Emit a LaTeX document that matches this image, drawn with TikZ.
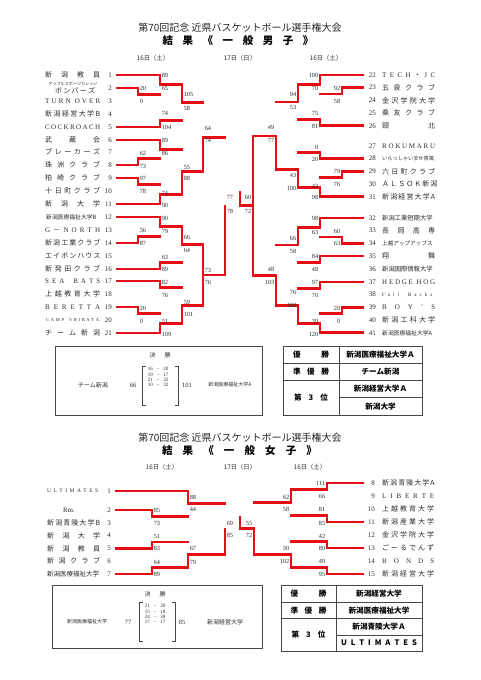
\documentclass[tikz,border=0pt]{standalone}
\usepackage{fontspec}
\setmainfont{Liberation Serif}
\newfontfamily\jp{Noto Sans CJK JP}
\definecolor{bred}{RGB}{232,12,20}
\definecolor{lk}{RGB}{70,70,70}
\definecolor{txt}{RGB}{45,45,45}
\pgfdeclarelayer{bg}
\pgfsetlayers{bg,main}
\tikzset{
 bk/.style={draw=lk, line width=0.8pt},
 rd/.style={draw=bred, line width=2.7pt, line cap=rect},
 sepl/.style={draw=black!35, line width=0.6pt},
 nm/.style={anchor=west, inner sep=0pt, text=txt, font=\jp\fontsize{7}{8}\selectfont},
 numL/.style={anchor=east, inner sep=0pt, text=txt, font=\fontsize{7}{8}\selectfont},
 scl/.style={anchor=west, inner sep=0.6pt, text=txt, font=\fontsize{6.3}{7}\selectfont},
 scr/.style={anchor=east, inner sep=0.6pt, text=txt, font=\fontsize{6.3}{7}\selectfont},
 ttl/.style={inner sep=0pt, text=black!85, font=\jp\fontsize{10}{12}\selectfont},
 ttlb/.style={inner sep=0pt, text=black, font=\jp\bfseries\fontsize{10.5}{12}\selectfont},
 dt/.style={inner sep=0pt, text=txt, font=\jp\fontsize{6.3}{7}\selectfont},
 fbx/.style={draw=lk, line width=0.9pt},
 brk/.style={draw=lk, line width=0.8pt},
 tb/.style={inner sep=0pt, text=black, font=\jp\bfseries\fontsize{7.6}{9}\selectfont},
 sm/.style={inner sep=0pt, text=txt, font=\jp\fontsize{6}{7}\selectfont},
 rw/.style={inner sep=0pt, text=txt, font=\fontsize{5}{5.5}\selectfont},
 fs/.style={inner sep=0pt, text=txt, font=\fontsize{6.5}{7}\selectfont},
}
\newcount\nodecnt
\newcommand\ScL[3]{\global\advance\nodecnt by 1\relax\node[scl] (sc\the\nodecnt) at (#1,#2) {#3};}
\newcommand\ScR[3]{\global\advance\nodecnt by 1\relax\node[scr] (sc\the\nodecnt) at (#1,#2) {#3};}
\newcommand\TLr[3]{\draw[rd] (#1,#3) -- (#2,#3);}
\newcommand\TLk[3]{\begin{pgfonlayer}{bg}\draw[bk] (#1,#3) -- (#2,#3);\end{pgfonlayer}}
\newcommand\bm[5]{%
 \pgfmathsetmacro\bmid{(#2+#3)/2}%
 \begin{pgfonlayer}{bg}\draw[bk] (#1,#2) -- (#1,#3);\end{pgfonlayer}%
 \ifnum#5=1\relax\draw[rd] (#1,#2) -- (#1,\bmid) -- (#4,\bmid);%
 \else\draw[rd] (#1,#3) -- (#1,\bmid) -- (#4,\bmid);\fi}
\newcommand\NL[4]{\node[nm] (#1) at (45,#2) {\makebox[55pt][s]{#4}};\node[numL] (#1n) at (112,#2) {#3};}
\newcommand\NR[4]{\node[nm] (#1) at (382,#2) {\makebox[53pt][s]{#4}};\node[numL] (#1n) at (376,#2) {#3};}
\newcommand\WNL[4]{\node[nm] (#1) at (47,#2) {\makebox[53pt][s]{#4}};\node[numL] (#1n) at (111,#2) {#3};}
\newcommand\WNR[4]{\node[nm] (#1) at (382,#2) {\makebox[52pt][s]{#4}};\node[numL] (#1n) at (375,#2) {#3};}
\begin{document}
\begin{tikzpicture}[x=1pt,y=-1pt]
\useasboundingbox (0,0) rectangle (481,680);
\fill[white] (0,0) rectangle (481,680);

% ================= MEN =================
\node[ttl] (mt1) at (240,28) {第70回記念 近県バスケットボール選手権大会};
\node[ttlb] (mt2) at (238,41) {\makebox[151pt][s]{結 果 《 一 般 男 子 》}};
\node[dt] (md1) at (153,58) {16日（土）};
\node[dt] (md2) at (240,58) {17日（日）};
\node[dt] (md3) at (326,58) {16日（土）};
\begin{pgfonlayer}{bg}
\draw[sepl] (197,53) -- (197,342);
\draw[sepl] (284,53) -- (284,342);
\end{pgfonlayer}

% left names
\NL{L1}{75}{1}{新 潟 教 員}
\node[inner sep=0pt, text=txt, font=\jp\fontsize{4.1}{5}\selectfont] (L2a) at (73,84.3) {アップルスポーツカレッジ};
\node[nm] (L2) at (55,91) {\makebox[40pt][s]{ボ ン バ ー ズ}};
\node[numL] (L2n) at (112,88) {2};
\NL{L3}{101}{3}{\rmfamily T U R N \ O V E R}
\NL{L4}{114}{4}{新 潟 経 営 大 学 B}
\NL{L5}{127}{5}{\rmfamily C O C K R O A C H}
\NL{L6}{140}{6}{武 蔵 会}
\NL{L7}{152}{7}{ブ レ ー カ ー ズ}
\NL{L8}{165}{8}{珠 洲 ク ラ ブ}
\NL{L9}{178}{9}{柏 崎 ク ラ ブ}
\NL{L10}{191}{10}{十 日 町 ク ラ ブ}
\NL{L11}{204}{11}{新 潟 大 学}
\node[nm, font=\jp\fontsize{5.8}{6}\selectfont] (L12) at (46,217) {新潟医療福祉大学B};
\node[numL] (L12n) at (112,217) {12};
\NL{L13}{230}{13}{\rmfamily G {\jp －} N O R T H}
\NL{L14}{243}{14}{新 潟 工 業 ク ラ ブ}
\NL{L15}{256}{15}{エ イ ボ ン ハ ウ ス}
\NL{L16}{269}{16}{新 発 田 ク ラ ブ}
\NL{L17}{281}{17}{\rmfamily S E A \ \ B A T S}
\NL{L18}{294}{18}{上 越 教 育 大 学}
\NL{L19}{307}{19}{\rmfamily B E R E T T A}
\node[nm, font=\fontsize{4.5}{5}\selectfont] (L20) at (46,320) {\makebox[53pt][s]{C A M P \ \ S H I B A T A}};
\node[numL] (L20n) at (112,320) {20};
\NL{L21}{333}{21}{チ ー ム 新 潟}

% right names
\NR{R22}{75}{22}{\rmfamily T E C H {\jp ・} J C}
\NR{R23}{87.7}{23}{五 泉 ク ラ ブ}
\NR{R24}{100.4}{24}{金 沢 学 院 大 学}
\NR{R25}{113.1}{25}{桑 友 ク ラ ブ}
\NR{R26}{125.8}{26}{頸 北}
\NR{R27}{146}{27}{\rmfamily R O K U M A R U}
\node[nm, font=\jp\fontsize{5.2}{6}\selectfont] (R28) at (382,158.7) {いらっしゃいませ青風};
\node[numL] (R28n) at (376,158.7) {28};
\NR{R29}{171.4}{29}{六 日 町 ク ラ ブ}
\NR{R30}{184.1}{30}{Ａ Ｌ Ｓ Ｏ Ｋ 新 潟}
\NR{R31}{196.8}{31}{新 潟 経 営 大 学 A}
\node[nm, font=\jp\fontsize{6.3}{7}\selectfont] (R32) at (382,218) {新潟工業短期大学};
\node[numL] (R32n) at (376,218) {32};
\NR{R33}{230.7}{33}{長 岡 高 専}
\node[nm, font=\jp\fontsize{5.6}{6}\selectfont] (R34) at (382,243.4) {上越アップアップス};
\node[numL] (R34n) at (376,243.4) {34};
\NR{R35}{256.1}{35}{翔 舞}
\node[nm, font=\jp\fontsize{6.3}{7}\selectfont] (R36) at (382,268.8) {新潟国際情報大学};
\node[numL] (R36n) at (376,268.8) {36};
\NR{R37}{282}{37}{\rmfamily H E D G E \ H O G}
\node[nm, font=\fontsize{5}{6}\selectfont] (R38) at (382,294.7) {\makebox[50pt][s]{F a l l \ \ B a c k s}};
\node[numL] (R38n) at (376,294.7) {38};
\NR{R39}{307.4}{39}{\rmfamily B O Y ’ S}
\NR{R40}{320.1}{40}{新 潟 工 科 大 学}
\node[nm, font=\jp\fontsize{5.8}{6}\selectfont] (R41) at (382,332.8) {新潟医療福祉大学A};
\node[numL] (R41n) at (376,332.8) {41};

% left team lines
\TLr{117}{160}{75}
\TLr{117}{138}{88}
\TLk{117}{138}{101}
\TLk{117}{160}{114}
\TLr{117}{160}{127}
\TLr{117}{160}{140}
\TLk{117}{138}{152}
\TLr{117}{138}{165}
\TLr{117}{138}{178}
\TLk{117}{138}{191}
\TLr{117}{160}{204}
\TLr{117}{160}{217}
\TLk{117}{138}{230}
\TLr{117}{138}{243}
\TLk{117}{160}{256}
\TLr{117}{160}{269}
\TLr{117}{160}{281}
\TLk{117}{160}{294}
\TLr{117}{138}{307}
\TLk{117}{138}{320}
\TLr{117}{160}{333}
% left matches
\bm{138}{88}{101}{160}{1}
\bm{160}{75}{94.5}{182}{1}
\bm{160}{114}{127}{182}{2}
\bm{182}{84.75}{120.5}{203}{1}
\bm{138}{152}{165}{160}{2}
\bm{160}{140}{158.5}{182}{1}
\bm{138}{178}{191}{160}{1}
\bm{160}{184.5}{204}{182}{2}
\bm{182}{149.25}{194.25}{203}{2}
\bm{203}{102.625}{171.75}{225}{2}
\bm{138}{230}{243}{160}{2}
\bm{160}{217}{236.5}{182}{1}
\bm{160}{256}{269}{182}{2}
\bm{182}{226.75}{262.5}{203}{1}
\bm{160}{281}{294}{182}{1}
\bm{138}{307}{320}{160}{1}
\bm{160}{313.5}{333}{182}{2}
\bm{182}{287.5}{323.25}{203}{2}
\draw[rd] (203,244.625) -- (203,305.375);
\draw[rd] (203,275) -- (225,275);
\begin{pgfonlayer}{bg}
\draw[bk] (225,137.19) -- (225,275);
\draw[bk] (225,206.1) -- (240,206.1);
\end{pgfonlayer}
\draw[rd] (225,275) -- (225,206.1);

% right team lines
\TLr{320}{363}{75}
\TLr{342}{363}{87.7}
\TLk{342}{363}{100.4}
\TLk{320}{363}{113.1}
\TLr{320}{363}{125.8}
\TLk{320}{363}{146}
\TLr{320}{363}{158.7}
\TLr{342}{363}{171.4}
\TLk{342}{363}{184.1}
\TLr{320}{363}{196.8}
\TLr{320}{363}{218}
\TLk{342}{363}{230.7}
\TLr{342}{363}{243.4}
\TLr{320}{363}{256.1}
\TLk{320}{363}{268.8}
\TLr{320}{363}{282}
\TLk{320}{363}{294.7}
\TLr{342}{363}{307.4}
\TLk{342}{363}{320.1}
\TLr{320}{363}{332.8}
% right matches
\bm{342}{87.7}{100.4}{320}{1}
\bm{320}{75}{94.05}{298}{1}
\bm{320}{113.1}{125.8}{298}{2}
\bm{298}{84.525}{119.45}{276}{1}
\bm{320}{146}{158.7}{298}{2}
\bm{342}{171.4}{184.1}{320}{1}
\bm{320}{177.75}{196.8}{298}{2}
\bm{298}{152.35}{187.275}{276}{2}
\bm{276}{101.9875}{169.8125}{253}{2}
\bm{342}{230.7}{243.4}{320}{2}
\bm{320}{218}{237.05}{298}{1}
\bm{320}{256.1}{268.8}{298}{1}
\bm{298}{227.525}{262.45}{276}{1}
\bm{320}{282}{294.7}{298}{1}
\bm{342}{307.4}{320.1}{320}{1}
\bm{320}{313.75}{332.8}{298}{2}
\bm{298}{288.35}{323.275}{276}{2}
\bm{276}{244.9875}{305.8125}{253}{2}
\draw[rd] (253,135.9) -- (253,275.4);
\draw[rd] (253,205.65) -- (240,205.65) -- (240,192);

% men scores left
\ScL{139}{88}{20}\ScL{139}{101}{0}
\ScL{139}{153}{62}\ScL{139}{166}{73}
\ScL{139}{178}{97}\ScL{139}{191}{78}
\ScL{139}{230}{56}\ScL{139}{243}{87}
\ScL{139}{308}{20}\ScL{139}{321}{0}
\ScL{161}{75}{89}\ScL{161}{88}{65}
\ScL{161}{113}{74}\ScL{161}{127}{104}
\ScL{161}{140}{89}\ScL{161}{153}{86}
\ScL{161}{193}{74}\ScL{161}{205}{90}
\ScL{161}{218}{90}\ScL{161}{231}{79}
\ScL{161}{257}{63}\ScL{161}{269}{89}
\ScL{161}{282}{82}\ScL{161}{295}{76}
\ScL{161}{321}{51}\ScL{161}{334}{109}
\ScL{183}{94}{105}\ScL{183}{108}{58}
\ScL{183}{167}{55}\ScL{183}{178}{88}
\ScL{183}{237}{66}\ScL{183}{250}{64}
\ScL{183}{302}{59}\ScL{183}{314}{101}
\ScL{204}{128}{64}\ScL{204}{140}{74}
\ScL{204}{270}{73}\ScL{204}{282}{76}
\ScL{226}{197}{77}\ScL{226}{211}{78}
% men scores right
\ScR{341}{88}{92}\ScR{341}{101}{58}
\ScR{341}{171}{79}\ScR{341}{184}{76}
\ScR{341}{231}{60}\ScR{341}{243}{63}
\ScR{341}{308}{20}\ScR{341}{321}{0}
\ScR{319}{75}{100}\ScR{319}{88}{70}
\ScR{319}{113}{75}\ScR{319}{126}{81}
\ScR{319}{147}{0}\ScR{319}{159}{20}
\ScR{319}{186}{43}\ScR{319}{197}{98}
\ScR{319}{218}{98}\ScR{319}{232}{63}
\ScR{319}{256}{84}\ScR{319}{269}{48}
\ScR{319}{282}{97}\ScR{319}{295}{70}
\ScR{319}{321}{39}\ScR{319}{334}{120}
\ScR{297}{94}{94}\ScR{297}{107}{53}
\ScR{297}{175}{43}\ScR{297}{188}{100}
\ScR{297}{238}{66}\ScR{297}{251}{58}
\ScR{297}{292}{76}\ScR{297}{305}{102}
\ScR{275}{127}{49}\ScR{275}{140}{77}
\ScR{275}{269}{48}\ScR{275}{282}{103}
\ScR{252}{197}{60}\ScR{252}{211}{72}

% men final box
\draw[fbx] (55,346) rectangle (262,415);
\node[sm] (mk) at (160,355) {決\hspace{9pt}勝};
\node[rw] (mr1) at (158,369.3) {16\hspace{4pt}–\hspace{4pt}20};
\node[rw] (mr2) at (158,374.4) {19\hspace{4pt}–\hspace{4pt}17};
\node[rw] (mr3) at (158,379.5) {21\hspace{4pt}–\hspace{4pt}32};
\node[rw] (mr4) at (158,384.6) {10\hspace{4pt}–\hspace{4pt}32};
\draw[brk] (145.5,366) -- (142,366) -- (142,405) -- (145.5,405);
\draw[brk] (174.5,366) -- (178,366) -- (178,405) -- (174.5,405);
\node[sm] (mfa) at (93,385) {チーム新潟};
\node[fs] (mfas) at (133,385) {66};
\node[fs] (mfbs) at (187,385) {101};
\node[sm, font=\jp\fontsize{5}{6}\selectfont] (mfb) at (230,385) {新潟医療福祉大学A};

% men result table
\draw[fbx] (283,346) rectangle (422,415);
\draw[fbx] (339,346) -- (339,415);
\draw[fbx] (283,363) -- (422,363);
\draw[fbx] (283,380) -- (422,380);
\draw[fbx] (339,397.5) -- (422,397.5);
\node[tb] (mw1) at (311,354.5) {\makebox[36pt][s]{優 勝}};
\node[tb] (mw1t) at (380.5,354.5) {新潟医療福祉大学Ａ};
\node[tb] (mw2) at (311,371.5) {\makebox[36pt][s]{準 優 勝}};
\node[tb] (mw2t) at (380.5,371.5) {チーム新潟};
\node[tb] (mw3) at (311,397.5) {\makebox[34pt][s]{第 3 位}};
\node[tb] (mw3a) at (380.5,388.75) {新潟経営大学Ａ};
\node[tb] (mw3b) at (380.5,406.25) {新潟大学};

% ================= WOMEN =================
\node[ttl] (wt1) at (240,438) {第70回記念 近県バスケットボール選手権大会};
\node[ttlb] (wt2) at (239.5,450.5) {\makebox[155pt][s]{結 果 《 一 般 女 子 》}};
\node[dt] (wd1) at (162,467) {16日（土）};
\node[dt] (wd2) at (240,467) {17日（日）};
\node[dt] (wd3) at (310,467) {16日（土）};
\begin{pgfonlayer}{bg}
\draw[sepl] (211,462) -- (211,575);
\draw[sepl] (269,462) -- (269,575);
\end{pgfonlayer}

\node[nm, font=\fontsize{5.5}{6}\selectfont] (W1) at (47,491) {\makebox[51pt][s]{U L T I M A T E S}};
\node[numL] (W1n) at (111,491) {1};
\node[nm, anchor=center, font=\fontsize{7}{8}\selectfont] (W2) at (69,510) {Rm.};
\node[numL] (W2n) at (111,510) {2};
\WNL{W3}{522.8}{3}{新 潟 青 陵 大 学 B}
\WNL{W4}{535.6}{4}{新 潟 大 学}
\WNL{W5}{548.4}{5}{新 潟 教 員}
\WNL{W6}{561.2}{6}{新 潟 ク ラ ブ}
\node[nm, font=\jp\fontsize{6.5}{7}\selectfont] (W7) at (47,574) {新潟医療福祉大学};
\node[numL] (W7n) at (111,574) {7};

\WNR{W8}{483}{8}{新 潟 青 陵 大 学 A}
\WNR{W9}{496}{9}{\rmfamily L I B E R T E}
\WNR{W10}{509}{10}{上 越 教 育 大 学}
\WNR{W11}{522}{11}{新 潟 産 業 大 学}
\WNR{W12}{535}{12}{金 沢 学 院 大 学}
\WNR{W13}{548}{13}{ご ー る で ん ず}
\WNR{W14}{561}{14}{\rmfamily B O N D S}
\WNR{W15}{574}{15}{新 潟 経 営 大 学}

\TLr{116}{188}{491}
\TLr{116}{152}{510}
\TLk{116}{152}{522.8}
\TLk{116}{152}{535.6}
\TLr{116}{152}{548.4}
\TLk{116}{152}{561.2}
\TLr{116}{152}{574}
\bm{152}{510}{522.8}{188}{1}
\bm{188}{491}{516.4}{225}{1}
\bm{152}{535.6}{548.4}{188}{2}
\bm{152}{561.2}{574}{188}{2}
\bm{188}{542}{567.6}{225}{2}
\begin{pgfonlayer}{bg}
\draw[bk] (225,503.7) -- (225,554.8);
\draw[bk] (225,529.25) -- (240,529.25);
\end{pgfonlayer}
\draw[rd] (225,554.8) -- (225,529.25);

\TLr{327}{363}{483}
\TLk{327}{363}{496}
\TLk{327}{363}{509}
\TLr{327}{363}{522}
\TLk{327}{363}{535}
\TLr{327}{363}{548}
\TLk{327}{363}{561}
\TLr{327}{363}{574}
\bm{327}{483}{496}{291}{1}
\bm{327}{509}{522}{291}{2}
\bm{291}{489.5}{515.5}{254}{1}
\bm{327}{535}{548}{291}{2}
\bm{327}{561}{574}{291}{2}
\bm{291}{541.5}{567.5}{254}{2}
\begin{pgfonlayer}{bg}
\draw[bk] (254,502.5) -- (254,554.5);
\end{pgfonlayer}
\draw[rd] (254,554.5) -- (254,528.5) -- (240,528.5) -- (240,517);

\ScL{153}{510}{85}\ScL{153}{523}{73}
\ScL{153}{536}{51}\ScL{153}{548}{83}
\ScL{153}{562}{64}\ScL{153}{574}{89}
\ScL{189}{497}{88}\ScL{189}{509}{44}
\ScL{189}{548}{67}\ScL{189}{562}{79}
\ScL{226}{523}{69}\ScL{226}{535}{85}
\ScR{326}{483}{111}\ScR{326}{496}{66}
\ScR{326}{509}{81}\ScR{326}{523}{85}
\ScR{326}{536}{42}\ScR{326}{548}{80}
\ScR{326}{561}{49}\ScR{326}{574}{95}
\ScR{290}{497}{62}\ScR{290}{509}{58}
\ScR{290}{548}{30}\ScR{290}{561}{102}
\ScR{253}{523}{55}\ScR{253}{535}{72}

% women final box
\draw[fbx] (52,585) rectangle (262,648);
\node[sm] (wk) at (155,594) {決\hspace{9pt}勝};
\node[rw] (wr1) at (155,606.3) {21\hspace{4pt}–\hspace{4pt}20};
\node[rw] (wr2) at (155,611.4) {15\hspace{4pt}–\hspace{4pt}18};
\node[rw] (wr3) at (155,616.5) {24\hspace{4pt}–\hspace{4pt}30};
\node[rw] (wr4) at (155,621.6) {17\hspace{4pt}–\hspace{4pt}17};
\draw[brk] (142.5,602) -- (139,602) -- (139,641) -- (142.5,641);
\draw[brk] (171.5,602) -- (175,602) -- (175,641) -- (171.5,641);
\node[sm, font=\jp\fontsize{5}{6}\selectfont] (wfa) at (87,622) {新潟医療福祉大学};
\node[fs] (wfas) at (128,622) {77};
\node[fs] (wfbs) at (182,622) {85};
\node[sm] (wfb) at (225,622) {新潟経営大学};

% women result table
\draw[fbx] (281,585) rectangle (422,651);
\draw[fbx] (336,585) -- (336,651);
\draw[fbx] (281,602) -- (422,602);
\draw[fbx] (281,618.5) -- (422,618.5);
\draw[fbx] (336,635) -- (422,635);
\node[tb] (ww1) at (308.5,593.5) {\makebox[36pt][s]{優 勝}};
\node[tb] (ww1t) at (379,593.5) {新潟経営大学};
\node[tb] (ww2) at (308.5,610.25) {\makebox[36pt][s]{準 優 勝}};
\node[tb] (ww2t) at (379,610.25) {新潟医療福祉大学};
\node[tb] (ww3) at (308.5,635) {\makebox[34pt][s]{第 3 位}};
\node[tb] (ww3a) at (379,626.75) {新潟青陵大学Ａ};
\node[tb] (ww3b) at (379,643) {\makebox[76pt][s]{U L T I M A T E S}};
\end{tikzpicture}
\end{document}
